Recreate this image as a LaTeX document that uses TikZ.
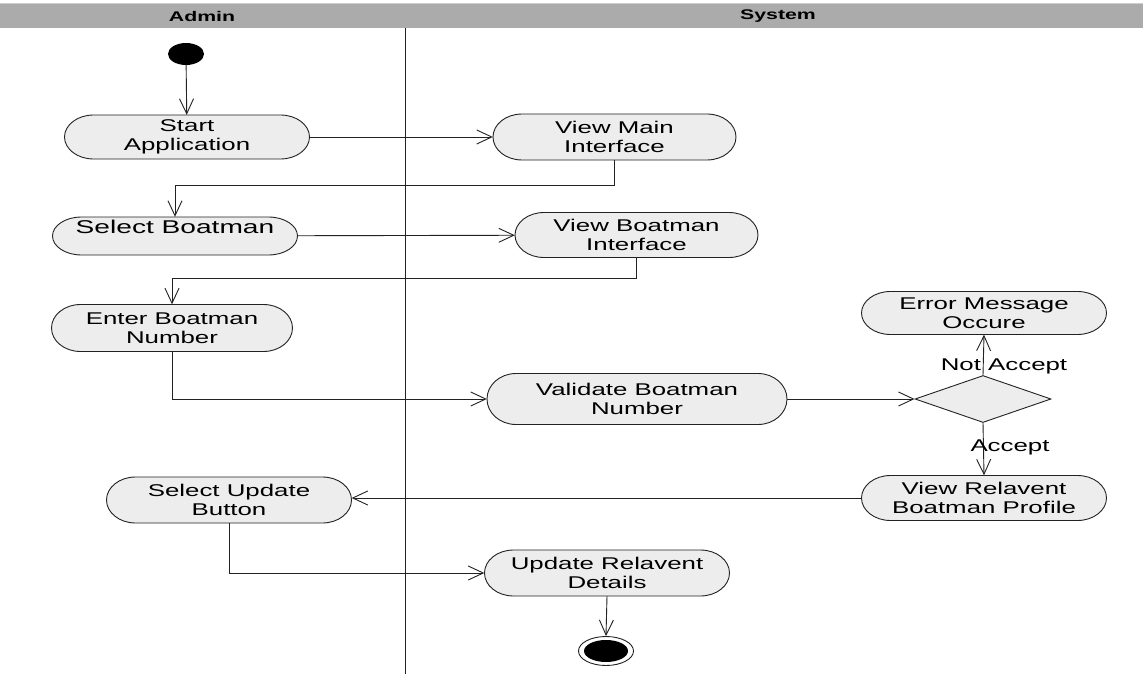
\documentclass[tikz,border=0pt]{standalone}
\usepackage{fontspec}
\setmainfont[FakeStretch=1.52]{Liberation Sans}
\usetikzlibrary{arrows.meta,shapes.geometric}

\definecolor{lanegray}{HTML}{ABABAB}
\definecolor{actfill}{HTML}{EDEDED}
\definecolor{ink}{HTML}{222222}

% activity: name, centre, width, height, text
\newcommand\activity[5]{%
  \begin{scope}[shift={(#2)}]
    \pgfmathsetmacro\hh{#4/2}\pgfmathsetmacro\ax{#3/2-29}
    \draw[actline] (-\ax,-\hh) -- (\ax,-\hh)
      arc[start angle=-90,end angle=90,x radius=29,y radius=\hh]
      -- (-\ax,\hh)
      arc[start angle=90,end angle=270,x radius=29,y radius=\hh] -- cycle;
  \end{scope}
  \node[acttext,minimum width=#3pt,minimum height=#4pt] (#1) at (#2) {#5};
}

\tikzset{
  actline/.style={draw=ink,line width=0.9pt,fill=actfill},
  acttext/.style={draw=none,inner sep=0pt,align=center,text=black,
    font=\fontsize{17}{18.5}\selectfont},
  flow/.style={draw=ink,line width=0.9pt,-{Straight Barb[length=15pt,width=14pt,line width=0.9pt]}},
  guard/.style={inner sep=0pt,font=\fontsize{17}{18.5}\selectfont},
  lanehead/.style={inner sep=0pt,font=\fontsize{14}{15}\selectfont\bfseries},
}

\begin{document}
\begin{tikzpicture}[x=1pt,y=-1pt]
\useasboundingbox[fill=white] (0,0) rectangle (1143,674);

% swimlane header and divider
\fill[lanegray] (0,3) rectangle (1143,28.5);
\draw[line width=0.8pt,lanegray!60!white] (0,3.8) -- (1143,3.8);
\node[lanehead] (admin) at (202,16) {Admin};
\node[lanehead] (system) at (778,16) {System};
\coordinate (laneT) at (405,28.5);
\coordinate (laneB) at (405,674);
\draw[line width=0.8pt,ink] (laneT) -- (laneB);

% start and final states
\node[ellipse,fill=black,minimum width=36pt,minimum height=22pt,inner sep=0pt] (start) at (186,54) {};
\node[ellipse,draw=ink,line width=0.9pt,fill=white,minimum width=55pt,minimum height=29pt,inner sep=0pt] (final) at (606,651) {};
\node[ellipse,fill=black,minimum width=44pt,minimum height=22pt,inner sep=0pt] (finaldot) at (606,651) {};

% activities
\activity{startapp}{187,137}{245}{44}{Start\\Application}
\activity{viewmain}{614.5,137}{243}{46}{View Main\\Interface}
\activity{selboat}{175,236}{245}{38}{\raisebox{3pt}[0pt][0pt]{\fontsize{18.5}{20}\selectfont Select Boatman}}
\activity{viewboat}{636.5,235}{243}{45}{View Boatman\\Interface}
\activity{enterboat}{172,328}{241}{47}{Enter Boatman\\Number}
\activity{validate}{637,399}{300}{51}{Validate Boatman\\Number}
\activity{errmsg}{984,313}{245}{43}{Error Message\\Occure}
\activity{viewprof}{984,498}{245}{45}{View Relavent\\Boatman Profile}
\activity{selupd}{229,500}{245}{46}{Select Update\\Button}
\activity{updrel}{607,573}{245}{46}{Update Relavent\\Details}

% decision
\node[diamond,draw=ink,line width=0.9pt,fill=actfill,minimum width=136pt,minimum height=47pt,inner sep=0pt,aspect=2.9] (check) at (983,399) {};

% flows
\draw[flow] (start) -- (startapp);
\draw[flow] (startapp) -- (viewmain);
\draw[flow] (viewmain.south) -- ++(0,25) -| (selboat.north);
\draw[flow] (selboat) -- (viewboat);
\draw[flow] (viewboat.south) -- ++(0,20.5) -| (enterboat.north);
\draw[flow] (enterboat.south) |- (validate.west);
\draw[flow] (validate) -- (check);
\draw[flow] (check.north) -- (errmsg.south);
\draw[flow] (check.south) -- (viewprof.north);
\draw[flow] (viewprof.west) -- (selupd.east |- viewprof.west);
\draw[flow] (selupd.south) |- (updrel.west);
\draw[flow] (updrel.south) -- (final.north);

% guards
\node[guard] (notacc) at (1004,366) {Not Accept};
\node[guard] (acc) at (1010,447) {Accept};
\end{tikzpicture}
\end{document}
